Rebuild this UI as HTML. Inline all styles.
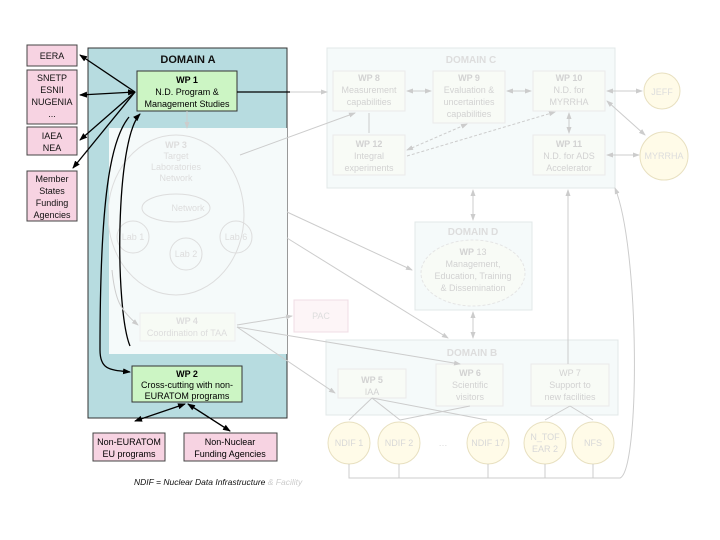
<!DOCTYPE html>
<html><head><meta charset="utf-8"><style>
html,body{margin:0;padding:0;background:#fff;}
svg{display:block;font-family:"Liberation Sans",Arial,sans-serif;}
</style></head><body>
<svg width="720" height="540" viewBox="0 0 720 540" xmlns="http://www.w3.org/2000/svg">
<defs>
<marker id="ab" markerWidth="8" markerHeight="8" refX="7" refY="4" orient="auto-start-reverse" markerUnits="userSpaceOnUse"><path d="M0,1 L8,4 L0,7 z" fill="#000"/></marker>
<marker id="ag" markerWidth="7" markerHeight="7" refX="6" refY="3.5" orient="auto-start-reverse" markerUnits="userSpaceOnUse"><path d="M0,1 L7,3.5 L0,6 z" fill="#ccc"/></marker>
</defs>
<!-- Domain A -->
<rect x="88" y="48" width="199" height="370" fill="#b7dce0" stroke="#333" stroke-width="1"/>
<rect x="109" y="128" width="178" height="226" fill="#f5fafa"/>
<text x="188" y="63" font-size="11" font-weight="bold" text-anchor="middle" fill="#111">DOMAIN A</text>
<!-- WP1 -->
<rect x="137" y="71" width="100" height="40" fill="#ccf5c4" stroke="#333"/>
<text x="187" y="83" font-size="9" font-weight="bold" text-anchor="middle">WP 1</text>
<text x="187" y="95" font-size="9" text-anchor="middle">N.D. Program &amp;</text>
<text x="187" y="107" font-size="9" text-anchor="middle">Management Studies</text>
<!-- left pink boxes -->
<g font-size="9" text-anchor="middle" fill="#111">
<rect x="27" y="45" width="50" height="21" fill="#f7d3e2" stroke="#444"/>
<text x="52" y="59">EERA</text>
<rect x="27" y="70" width="50" height="54" fill="#f7d3e2" stroke="#444"/>
<text x="52" y="81">SNETP</text><text x="52" y="93">ESNII</text><text x="52" y="105">NUGENIA</text><text x="52" y="117">...</text>
<rect x="27" y="127" width="50" height="28" fill="#f7d3e2" stroke="#444"/>
<text x="52" y="139">IAEA</text><text x="52" y="151">NEA</text>
<rect x="27" y="171" width="50" height="50" fill="#f7d3e2" stroke="#444"/>
<text x="52" y="182">Member</text><text x="52" y="194">States</text><text x="52" y="206">Funding</text><text x="52" y="218">Agencies</text>
</g>
<!-- WP3 area light -->
<g fill="none" stroke="#ddd">
<ellipse cx="176" cy="215" rx="68" ry="80"/>
<ellipse cx="176" cy="208" rx="34" ry="14"/>
<circle cx="133" cy="237" r="16"/><circle cx="236" cy="237" r="16"/><circle cx="186" cy="254" r="16"/>
</g>
<g font-size="9" text-anchor="middle" fill="#ddd">
<text x="176" y="148" font-weight="bold">WP 3</text><text x="176" y="159">Target</text><text x="176" y="170">Laboratories</text><text x="176" y="181">Network</text>
<text x="188" y="211">Network</text><text x="133" y="240">Lab 1</text><text x="236" y="240">Lab 6</text><text x="186" y="257">Lab 2</text>
</g>
<rect x="140" y="313" width="95" height="28" fill="#f7fbf5" stroke="#eee"/>
<text x="187" y="324" font-size="9" font-weight="bold" text-anchor="middle" fill="#ddd">WP 4</text>
<text x="187" y="336" font-size="9" text-anchor="middle" fill="#ddd">Coordination of TAA</text>
<!-- WP2 -->
<rect x="132" y="366" width="110" height="36" fill="#ccf5c4" stroke="#333"/>
<text x="187" y="377" font-size="9" font-weight="bold" text-anchor="middle">WP 2</text>
<text x="187" y="388" font-size="9" text-anchor="middle">Cross-cutting with non-</text>
<text x="187" y="399" font-size="9" text-anchor="middle">EURATOM programs</text>
<!-- bottom pink -->
<rect x="93" y="433" width="72" height="28" fill="#f7d3e2" stroke="#444"/>
<text x="129" y="445" font-size="9" text-anchor="middle">Non-EURATOM</text><text x="129" y="457" font-size="9" text-anchor="middle">EU programs</text>
<rect x="184" y="433" width="93" height="28" fill="#f7d3e2" stroke="#444"/>
<text x="230" y="445" font-size="9" text-anchor="middle">Non-Nuclear</text><text x="230" y="457" font-size="9" text-anchor="middle">Funding Agencies</text>
<text x="134" y="485" font-size="8.5" font-style="italic" fill="#111">NDIF = Nuclear Data Infrastructure <tspan fill="#ccc">&amp; Facility</tspan></text>
<!-- black arrows -->
<g stroke="#000" stroke-width="1.3" fill="none">
<line x1="80" y1="55" x2="135" y2="92" marker-start="url(#ab)"/>
<line x1="80" y1="95" x2="135" y2="92" marker-start="url(#ab)" marker-end="url(#ab)"/>
<line x1="80" y1="140" x2="135" y2="92" marker-start="url(#ab)"/>
<line x1="73" y1="168" x2="135" y2="92" marker-start="url(#ab)"/>
<line x1="237" y1="92" x2="290" y2="92"/>
<path d="M130,346 C115,310 115,140 140,114" marker-end="url(#ab)"/>
<path d="M100,350 C100,200 110,140 129,117" />
<path d="M100,350 C100,370 110,370 130,372" marker-end="url(#ab)"/>
<line x1="135" y1="421" x2="185" y2="404" marker-start="url(#ab)" marker-end="url(#ab)"/>
<line x1="230" y1="431" x2="188" y2="404" marker-end="url(#ab)"/>
<line x1="230" y1="431" x2="188" y2="404" marker-start="url(#ab)"/>
</g>
<!-- Domain C -->
<rect x="327" y="48" width="288" height="140" fill="#f5fafa" stroke="#e2e8e8"/>
<text x="471" y="63" font-size="10" font-weight="bold" text-anchor="middle" fill="#ddd">DOMAIN C</text>
<g fill="#f8fbf6" stroke="#eaeaea">
<rect x="333" y="71" width="72" height="40"/><rect x="433" y="71" width="72" height="52"/><rect x="533" y="71" width="72" height="40"/>
<rect x="333" y="135" width="72" height="40"/><rect x="533" y="135" width="72" height="40"/>
</g>
<g font-size="9" text-anchor="middle" fill="#d2d2d2">
<text x="369" y="81" font-weight="bold">WP 8</text><text x="369" y="93">Measurement</text><text x="369" y="105">capabilities</text>
<text x="469" y="81" font-weight="bold">WP 9</text><text x="469" y="93">Evaluation &amp;</text><text x="469" y="105">uncertainties</text><text x="469" y="117">capabilities</text>
<text x="569" y="81" font-weight="bold">WP 10</text><text x="569" y="93">N.D. for</text><text x="569" y="105">MYRRHA</text>
<text x="369" y="147" font-weight="bold">WP 12</text><text x="369" y="159">Integral</text><text x="369" y="171">experiments</text>
<text x="569" y="147" font-weight="bold">WP 11</text><text x="569" y="159">N.D. for ADS</text><text x="569" y="171">Accelerator</text>
</g>
<circle cx="662" cy="91" r="18" fill="#fffbe8" stroke="#e8e0c0"/>
<text x="662" y="95" font-size="9" text-anchor="middle" fill="#ddd">JEFF</text>
<circle cx="664" cy="156" r="24" fill="#fffbe8" stroke="#e8e0c0"/>
<text x="664" y="159" font-size="9" text-anchor="middle" fill="#ddd">MYRRHA</text>
<!-- Domain D -->
<rect x="415" y="222" width="117" height="88" fill="#f5fafa" stroke="#e2e8e8"/>
<text x="473" y="235" font-size="10" font-weight="bold" text-anchor="middle" fill="#ddd">DOMAIN D</text>
<ellipse cx="473" cy="273" rx="52" ry="33" fill="#f8fbf6" stroke="#e5e5e5" stroke-dasharray="3,2"/>
<g font-size="9" text-anchor="middle" fill="#d2d2d2">
<text x="473" y="255"><tspan font-weight="bold">WP</tspan> 13</text><text x="473" y="267">Management,</text><text x="473" y="279">Education, Training</text><text x="473" y="291">&amp; Dissemination</text>
</g>
<!-- PAC -->
<rect x="294" y="300" width="54" height="32" fill="#fdf5f7" stroke="#f0dde4"/>
<text x="321" y="319" font-size="9" text-anchor="middle" fill="#ddd">PAC</text>
<!-- Domain B -->
<rect x="326" y="340" width="292" height="75" fill="#f5fafa" stroke="#e2e8e8"/>
<text x="472" y="356" font-size="10" font-weight="bold" text-anchor="middle" fill="#ddd">DOMAIN B</text>
<g fill="#f8fbf6" stroke="#eaeaea">
<rect x="338" y="369" width="68" height="29"/><rect x="436" y="364" width="67" height="42"/><rect x="531" y="364" width="78" height="42"/>
</g>
<g font-size="9" text-anchor="middle" fill="#d2d2d2">
<text x="372" y="383" font-weight="bold">WP 5</text><text x="372" y="395">IAA</text>
<text x="470" y="376" font-weight="bold">WP 6</text><text x="470" y="388">Scientific</text><text x="470" y="400">visitors</text>
<text x="570" y="376">WP 7</text><text x="570" y="388">Support to</text><text x="570" y="400">new facilities</text>
</g>
<g fill="#fffbe8" stroke="#e8e0c0">
<circle cx="349" cy="443" r="21"/><circle cx="399" cy="443" r="21"/><circle cx="488" cy="443" r="21"/><circle cx="545" cy="443" r="21"/><circle cx="593" cy="443" r="21"/>
</g>
<g font-size="9" text-anchor="middle" fill="#d8d8d8">
<text x="349" y="446">NDIF 1</text><text x="399" y="446">NDIF 2</text><text x="443" y="446">…</text><text x="488" y="446">NDIF 17</text>
<text x="545" y="440">N_TOF</text><text x="545" y="452">EAR 2</text><text x="593" y="446">NFS</text>
</g>
<!-- grey connectors -->
<g stroke="#ccc" stroke-width="1" fill="none">
<line x1="290" y1="92" x2="327" y2="92" marker-end="url(#ag)"/>
<line x1="187" y1="111" x2="187" y2="128" marker-end="url(#ag)"/>
<line x1="240" y1="155" x2="355" y2="113" marker-end="url(#ag)"/>
<line x1="407" y1="91" x2="431" y2="91" marker-start="url(#ag)" marker-end="url(#ag)"/>
<line x1="507" y1="91" x2="531" y2="91" marker-start="url(#ag)" marker-end="url(#ag)"/>
<line x1="607" y1="91" x2="642" y2="91" marker-start="url(#ag)" marker-end="url(#ag)"/>
<line x1="607" y1="101" x2="645" y2="135" marker-start="url(#ag)" marker-end="url(#ag)"/>
<line x1="607" y1="155" x2="639" y2="155" marker-start="url(#ag)" marker-end="url(#ag)"/>
<line x1="569" y1="113" x2="569" y2="133" marker-start="url(#ag)" marker-end="url(#ag)"/>
<line x1="369" y1="113" x2="369" y2="133"/>
<line x1="407" y1="150" x2="467" y2="124" stroke-dasharray="3,2" marker-start="url(#ag)" marker-end="url(#ag)"/>
<line x1="407" y1="156" x2="555" y2="112" stroke-dasharray="3,2" marker-end="url(#ag)"/>
<line x1="473" y1="190" x2="473" y2="220" marker-start="url(#ag)" marker-end="url(#ag)"/>
<line x1="473" y1="312" x2="473" y2="338" marker-start="url(#ag)" marker-end="url(#ag)"/>
<line x1="568" y1="364" x2="568" y2="190" marker-end="url(#ag)"/>
<line x1="287" y1="212" x2="412" y2="270" marker-end="url(#ag)"/>
<line x1="287" y1="238" x2="448" y2="338" marker-end="url(#ag)"/>
<line x1="237" y1="325" x2="292" y2="316" marker-end="url(#ag)"/>
<line x1="237" y1="327" x2="335" y2="393" marker-end="url(#ag)"/>
<line x1="237" y1="327" x2="460" y2="364" marker-end="url(#ag)"/>
<path d="M112,270 C115,300 120,310 138,325" marker-end="url(#ag)"/>
<path d="M372,398 L349,420 M372,398 L400,420 M372,398 L487,420 M470,406 L400,420 M570,406 L545,420 M570,406 L593,420"/>
<path d="M349,464 V478 H620 C640,470 640,250 615,188" marker-end="url(#ag)"/>
<path d="M399,464 V478 M488,464 V478 M545,464 V478 M593,464 V478"/>
</g>
</svg>
</body></html>
